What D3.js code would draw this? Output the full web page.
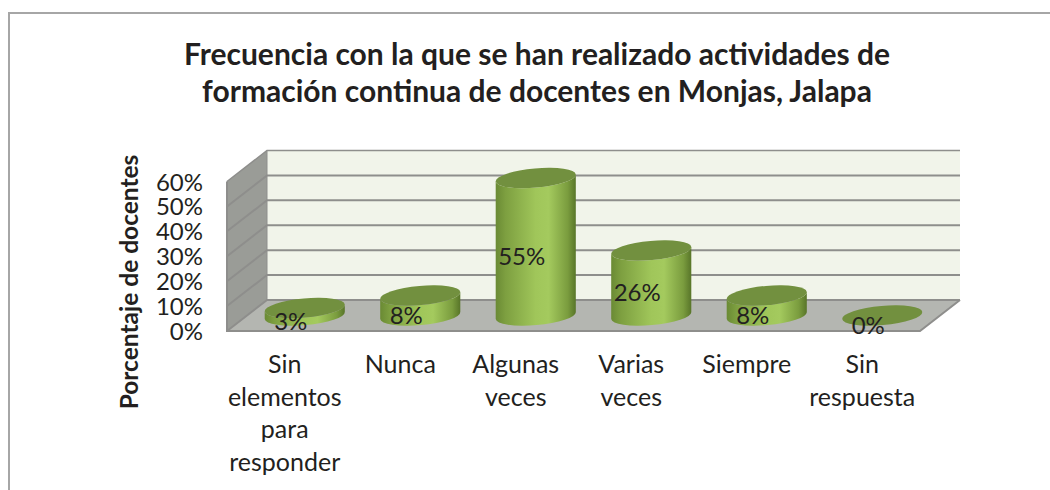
<!DOCTYPE html>
<html><head><meta charset="utf-8">
<script src="https://cdnjs.cloudflare.com/ajax/libs/d3/7.8.5/d3.min.js"></script>
<style>html,body{margin:0;padding:0;background:#fff;overflow:hidden}svg{display:block}text{font-family:Lato,sans-serif;fill:#231f20}</style>
</head><body><svg id="c" width="1050" height="490"></svg>
<script>
const titleLines=["Frecuencia con la que se han realizado actividades de","formación continua de docentes en Monjas, Jalapa"];
const yTitle="Porcentaje de docentes";
const categories=[["Sin","elementos","para","responder"],["Nunca"],["Algunas","veces"],["Varias","veces"],["Siempre"],["Sin","respuesta"]];
const values=[3,8,55,26,8,0];
const ticks=[0,10,20,30,40,50,60];

const svg=d3.select("#c");
const defs=svg.append("defs");
const grad=defs.append("linearGradient").attr("id","cyl");
[[0,"#6a8a34"],[0.12,"#7d9f40"],[0.5,"#a0c65a"],[0.66,"#a4ca5e"],[0.9,"#7a9c3e"],[1,"#587529"]].forEach(s=>grad.append("stop").attr("offset",s[0]).attr("stop-color",s[1]));

svg.append("rect").attr("x",9).attr("y",13).attr("width",1100).attr("height",520).attr("fill","#fff").attr("stroke","#a6a6a6").attr("stroke-width",2);

svg.append("g").selectAll("text").data(titleLines).join("text")
 .attr("x",537).attr("y",(d,i)=>65+i*37).attr("text-anchor","middle").attr("font-size",30).attr("font-weight",700).text(d=>d);

const dx=40,dy=-31,left=227,right=920,floorY=331;
const yFront=d3.scaleLinear().domain([0,60]).range([floorY,181.5]);
const x=d3.scaleBand().domain(d3.range(values.length)).range([left+dx/2,right+dx/2]);
const yh=d3.scaleLinear().domain([0,60]).range([0,150]);
const baseY=floorY+dy/2;

// walls
svg.append("rect").attr("x",left+dx).attr("y",yFront(60)+dy).attr("width",right-left).attr("height",yFront(0)-yFront(60)).attr("fill","#f1f4ea");
svg.append("path").attr("d",`M${left},${yFront(0)}L${left},${yFront(60)}L${left+dx},${yFront(60)+dy}L${left+dx},${yFront(0)+dy}Z`).attr("fill","#9a9c97");
svg.append("path").attr("d",`M${left},${floorY}L${right},${floorY}L${right+dx},${floorY+dy}L${left+dx},${floorY+dy}Z`).attr("fill","#b4b6b1");
const g=svg.append("g").attr("stroke","#8e8e8c").attr("stroke-width",2).attr("fill","none");
ticks.forEach(t=>{
  const yy=yFront(t);
  g.append("path").attr("d",`M${left},${yy}L${left+dx},${yy+dy}L${right+dx},${yy+dy}`).attr("stroke-width",t===60?1.5:2);
});
g.append("path").attr("d",`M${left},${yFront(60)}L${left},${floorY}L${right},${floorY}L${right+dx},${floorY+dy}`);
g.append("path").attr("d",`M${left+dx},${yFront(60)+dy}L${left+dx},${floorY+dy}`).attr("stroke-width",1);

// y tick labels
svg.append("g").selectAll("text").data(ticks).join("text")
 .attr("x",203).attr("y",t=>yFront(t)+9).attr("text-anchor","end").attr("font-size",24).text(t=>t+"%");
svg.append("text").attr("transform","translate(138,282) rotate(-90)").attr("text-anchor","middle").attr("font-size",24.5).attr("font-weight",700).text(yTitle);

// cylinders
const rx=40.2,ry=9.6,rot=-5;
const c=Math.cos(rot*Math.PI/180)*rx,s=Math.sin(rot*Math.PI/180)*rx;
const cyl=svg.append("g").selectAll("g").data(values).join("g");
cyl.append("path").attr("d",(v,i)=>{
  const cx=x(i)+x.bandwidth()/2,h=yh(v),top=baseY-h;
  return `M${cx-c},${top-s}L${cx-c},${baseY-s}A${rx},${ry} ${rot} 0 0 ${cx+c},${baseY+s}L${cx+c},${top+s}A${rx},${ry} ${rot} 0 1 ${cx-c},${top-s}Z`;
}).attr("fill","url(#cyl)");
cyl.append("ellipse").attr("rx",rx).attr("ry",ry)
 .attr("transform",(v,i)=>`translate(${x(i)+x.bandwidth()/2},${baseY-yh(v)}) rotate(${rot})`).attr("fill","#72903f");
cyl.append("text").attr("x",(v,i)=>x(i)+x.bandwidth()/2-14).attr("y",v=>baseY+18-yh(v)/2).attr("text-anchor","middle").attr("font-size",24).text(v=>v+"%");

// category labels
const cat=svg.append("g").selectAll("text").data(categories).join("text")
 .attr("text-anchor","middle").attr("font-size",25);
cat.each(function(lines,i){
  d3.select(this).selectAll("tspan").data(lines).join("tspan")
   .attr("x",x(i)+x.bandwidth()/2-20).attr("y",(d,j)=>373+j*32.6).text(d=>d);
});
</script></body></html>
